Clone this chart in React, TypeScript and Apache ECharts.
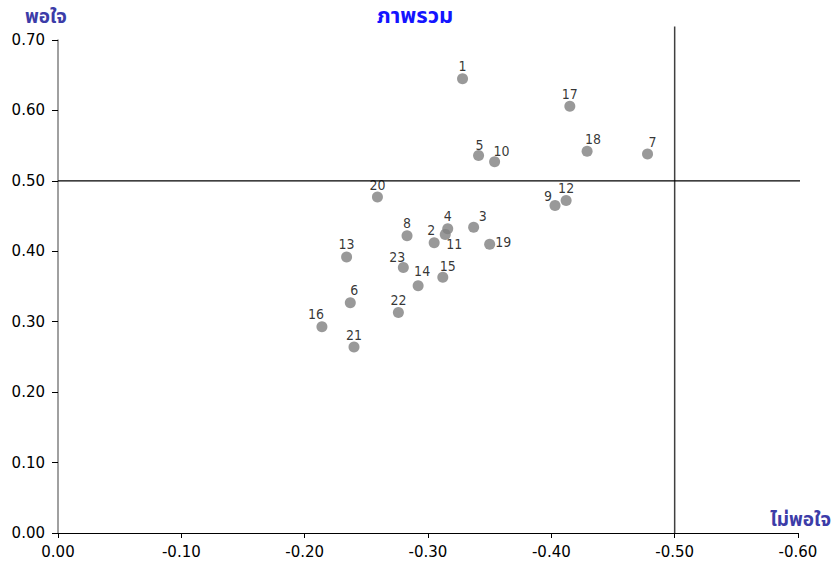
import React, { useEffect, useRef } from "react";
import * as echarts from "echarts";

const pointLabels = ["1","2","3","4","5","6","7","8","9","10","11","12","13","14","15","16","17","18","19","20","21","22","23"];
const xValues = [-0.328,-0.305,-0.337,-0.316,-0.341,-0.237,-0.478,-0.283,-0.403,-0.354,-0.314,-0.412,-0.234,-0.292,-0.312,-0.214,-0.415,-0.429,-0.350,-0.259,-0.240,-0.276,-0.280];
const yValues = [0.645,0.412,0.434,0.432,0.536,0.327,0.538,0.422,0.465,0.527,0.424,0.472,0.392,0.351,0.363,0.293,0.606,0.542,0.410,0.477,0.264,0.313,0.377];
const xTicks = [0, -0.1, -0.2, -0.3, -0.4, -0.5, -0.6];
const yTicks = [0, 0.1, 0.2, 0.3, 0.4, 0.5, 0.6, 0.7];
const refX = -0.5;
const refY = 0.5;
const vLineY = [0, 0.719];
const hLineX = [0, -0.604];

const titleText = "ภาพรวม";
const yName = "พอใจ";
const xName = "ไม่พอใจ";

// label placement (style only)
const labelStyle: Record<string, { position: string; offset: [number, number] }> = {
  "10": { position: "top", offset: [7, 2] },
  "18": { position: "top", offset: [6, 0] },
  "7": { position: "top", offset: [5, 0] },
  "9": { position: "top", offset: [-7, 3] },
  "11": { position: "bottom", offset: [9, -3] },
  "2": { position: "top", offset: [-3, 0] },
  "3": { position: "top", offset: [9, 1] },
  "19": { position: "right", offset: [0, -2] },
  "15": { position: "top", offset: [5, 1] },
  "14": { position: "top", offset: [4, -2] },
  "23": { position: "top", offset: [-6, 2] },
  "6": { position: "top", offset: [4, 0] },
  "16": { position: "top", offset: [-6, 0] },
  "5": { position: "top", offset: [1, 2] },
};

export default function App() {
  const ref = useRef<HTMLDivElement>(null);
  useEffect(() => {
    if (!ref.current) return;
    const chart = echarts.init(ref.current, null, { renderer: "svg" });
    const font = "'DejaVu Sans', Tahoma, sans-serif";
    const labelFont = "'DejaVu Sans Condensed', 'DejaVu Sans', sans-serif";
    const thaiFont = "Tahoma, 'Noto Sans Thai', 'Noto Sans', sans-serif";
    const data = pointLabels.map((name, i) => {
      const s = labelStyle[name] || { position: "top", offset: [0, 0] };
      return {
        name,
        value: [xValues[i], yValues[i]],
        label: { position: s.position, offset: s.offset },
      };
    });
    chart.setOption({
      animation: false,
      backgroundColor: "#ffffff",
      grid: { left: 58, right: 34, top: 40, bottom: 40 },
      xAxis: {
        type: "value",
        inverse: true,
        min: -0.6,
        max: 0,
        interval: 0.1,
        axisLine: { show: true, onZero: false, lineStyle: { color: "#000000", width: 1 } },
        axisTick: { show: true, inside: false, length: 5, lineStyle: { color: "#000000" } },
        axisLabel: {
          color: "#000000",
          fontSize: 15,
          fontFamily: font,
          margin: 11,
          formatter: (v: number) => (v === 0 ? "0.00" : v.toFixed(2)),
          customValues: xTicks,
        },
        splitLine: { show: false },
      },
      yAxis: {
        type: "value",
        min: 0,
        max: 0.7,
        interval: 0.1,
        axisLine: { show: true, onZero: false, lineStyle: { color: "#808080", width: 1.5 } },
        axisTick: { show: true, inside: false, length: 6, lineStyle: { color: "#000000" } },
        axisLabel: {
          color: "#000000",
          fontSize: 15,
          fontFamily: font,
          margin: 13,
          formatter: (v: number) => v.toFixed(2),
          customValues: yTicks,
        },
        splitLine: { show: false },
      },
      series: [
        {
          type: "line",
          data: [[refX, vLineY[0]], [refX, vLineY[1]]],
          clip: false,
          symbol: "none",
          silent: true,
          lineStyle: { color: "#404040", width: 1.5 },
          z: 1,
        },
        {
          type: "line",
          data: [[hLineX[0], refY], [hLineX[1], refY]],
          clip: false,
          symbol: "none",
          silent: true,
          lineStyle: { color: "#000000", width: 1.2 },
          z: 1,
        },
        {
          type: "scatter",
          data,
          symbol: "circle",
          symbolSize: 11,
          itemStyle: { color: "#808080" },
          label: {
            show: true,
            formatter: (p: any) => p.name,
            color: "#000000",
            fontSize: 14,
            fontFamily: labelFont,
            distance: 0,
          },
          z: 3,
        },
      ],
      graphic: [
        {
          type: "text",
          x: 415,
          y: 16,
          style: { text: titleText, fill: "#1414ff", font: `bold 22px ${thaiFont}`, align: "center", verticalAlign: "middle" },
        },
        {
          type: "text",
          x: 25,
          y: 17,
          style: { text: yName, fill: "#3c3ca8", font: `bold 19px ${thaiFont}`, align: "left", verticalAlign: "middle" },
        },
        {
          type: "text",
          x: 831,
          y: 520,
          style: { text: xName, fill: "#3c3ca8", font: `bold 19px ${thaiFont}`, align: "right", verticalAlign: "middle" },
        },
      ],
    });
    return () => chart.dispose();
  }, []);
  return <div ref={ref} style={{ width: 832, height: 573, position: "absolute", left: 0, top: 0 }} />;
}
